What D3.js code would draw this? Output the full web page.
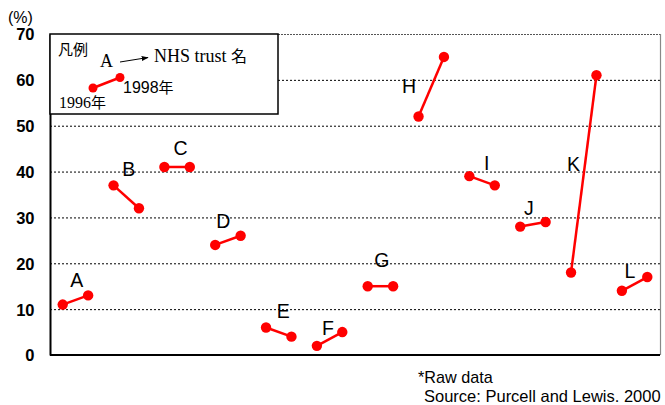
<!DOCTYPE html>
<html>
<head>
<meta charset="utf-8">
<script src="https://cdn.jsdelivr.net/npm/d3@7"></script>
<style>
  html, body { margin: 0; padding: 0; background: #fff; }
  svg { display: block; }
</style>
</head>
<body>
<svg id="chart" width="665" height="405"></svg>
<script>
// ---- data ----
const trusts = ["A","B","C","D","E","F","G","H","I","J","K","L"];
const years = ["1996年","1998年"];
const v1996 = [11, 37, 41, 24, 6, 2, 15, 52, 39, 28, 18, 14];
const v1998 = [13, 32, 41, 26, 4, 5, 15, 65, 37, 29, 61, 17];
const yTicks = [0, 10, 20, 30, 40, 50, 60, 70];
// label anchors (slot offset from the 1996 point, value units)
const labelDx = [0.55, 0.60, 0.64, 0.32, 0.68, 0.44, 0.56, -0.37, 0.68, 0.34, 0.10, 0.32];
const labelVal = [14.9, 39.1, 43.6, 27.6, 8.0, 4.4, 19.1, 57.1, 40.3, 30.5, 40.2, 16.7];

const svg = d3.select("#chart");
const pLeft = 50, pRight = 660, pTop = 34, pBottom = 355;

const x = d3.scaleLinear().domain([-0.5, trusts.length * 2 - 0.5]).range([pLeft, pRight]);
const y = d3.scaleLinear().domain([0, 70]).range([pBottom, pTop]);

// gridlines
svg.append("g").selectAll("line")
  .data(yTicks.filter(t => t > 0 && t < 70))
  .join("line")
  .attr("x1", pLeft).attr("x2", pRight)
  .attr("y1", d => y(d) + 0.5).attr("y2", d => y(d) + 0.5)
  .attr("stroke", "#000").attr("stroke-width", 1)
  .attr("stroke-dasharray", "2,2");

// plot area border
svg.append("line").attr("x1", pLeft).attr("x2", pRight).attr("y1", pTop + 0.5).attr("y2", pTop + 0.5)
  .attr("stroke", "#555").attr("stroke-width", 1.2).attr("stroke-dasharray", "2,1");
svg.append("line").attr("x1", pRight + 0.5).attr("x2", pRight + 0.5).attr("y1", pTop).attr("y2", pBottom)
  .attr("stroke", "#888").attr("stroke-width", 1.2);

// y axis
const yAxis = d3.axisLeft(y).tickValues(yTicks).tickSize(0).tickPadding(15.5);
const gy = svg.append("g").attr("transform", `translate(${pLeft},0)`).call(yAxis);
gy.select(".domain").attr("stroke", "#000").attr("stroke-width", 2);
gy.selectAll("text")
  .attr("font-family", "Liberation Sans, Arial, sans-serif")
  .attr("font-weight", "bold")
  .attr("font-size", 16.5)
  .attr("fill", "#000")
  .attr("dy", "0.36em");

// x axis baseline
svg.append("line").attr("x1", pLeft).attr("x2", pRight).attr("y1", pBottom).attr("y2", pBottom)
  .attr("stroke", "#000").attr("stroke-width", 2);

svg.append("text").attr("x", 8).attr("y", 23)
  .attr("font-family", "Liberation Sans, Arial, sans-serif").attr("font-size", 16)
  .text("(%)");

// series
const pairs = trusts.map((t, i) => ({ t, i, a: v1996[i], b: v1998[i] }));
const g = svg.append("g");
g.selectAll("line.pair").data(pairs).join("line")
  .attr("class", "pair")
  .attr("x1", d => x(d.i * 2)).attr("y1", d => y(d.a))
  .attr("x2", d => x(d.i * 2 + 1)).attr("y2", d => y(d.b))
  .attr("stroke", "#ff0000").attr("stroke-width", 2.5);
const pts = pairs.flatMap(d => [{ s: d.i * 2, v: d.a }, { s: d.i * 2 + 1, v: d.b }]);
g.selectAll("circle").data(pts).join("circle")
  .attr("cx", d => x(d.s)).attr("cy", d => y(d.v)).attr("r", 5.2)
  .attr("fill", "#ff0000");

// trust labels
g.selectAll("text.lab").data(pairs).join("text")
  .attr("class", "lab")
  .attr("x", d => x(d.i * 2 + labelDx[d.i]))
  .attr("y", d => y(labelVal[d.i]))
  .attr("text-anchor", "middle")
  .attr("font-family", "Liberation Sans, Arial, sans-serif")
  .attr("font-size", 19.5)
  .attr("fill", "#000")
  .text(d => d.t);

// legend
const lg = svg.append("g");
lg.append("rect").attr("x", pLeft).attr("y", pTop).attr("width", 228).attr("height", 80)
  .attr("fill", "#fff").attr("stroke", "#000").attr("stroke-width", 1.5);
const cjk = "'Noto Sans CJK JP', 'Noto Sans CJK SC', sans-serif";
const serif = "'Liberation Serif', 'Times New Roman', serif";
lg.append("text").attr("x", 58).attr("y", 55).attr("font-family", cjk).attr("font-size", 15).text("凡例");
lg.append("text").attr("x", 100).attr("y", 67).attr("font-family", serif).attr("font-size", 18).text("A");
svg.append("defs").append("marker").attr("id", "arr").attr("viewBox", "0 0 10 10")
  .attr("refX", 9).attr("refY", 5).attr("markerWidth", 7).attr("markerHeight", 7)
  .attr("orient", "auto").append("path").attr("d", "M0,1.5 L10,5 L0,8.5 Z").attr("fill", "#000");
lg.append("line").attr("x1", 120).attr("y1", 62).attr("x2", 148).attr("y2", 57.5)
  .attr("stroke", "#000").attr("stroke-width", 1).attr("marker-end", "url(#arr)");
const t1 = lg.append("text").attr("x", 154).attr("y", 62).attr("font-size", 18);
t1.append("tspan").attr("font-family", serif).text("NHS trust ");
t1.append("tspan").attr("font-family", cjk).attr("font-size", 16).text("名");
lg.append("line").attr("x1", 93).attr("y1", 88).attr("x2", 120).attr("y2", 77.5)
  .attr("stroke", "#ff0000").attr("stroke-width", 2.5);
lg.append("circle").attr("cx", 93).attr("cy", 88).attr("r", 4.5).attr("fill", "#ff0000");
lg.append("circle").attr("cx", 120).attr("cy", 77.5).attr("r", 4.5).attr("fill", "#ff0000");
const t2 = lg.append("text").attr("x", 123).attr("y", 93).attr("font-size", 16);
t2.append("tspan").attr("font-family", "Liberation Sans, Arial, sans-serif").text(years[1].slice(0, 4));
t2.append("tspan").attr("font-family", cjk).attr("font-size", 15).text(years[1].slice(4));
const t3 = lg.append("text").attr("x", 59).attr("y", 108).attr("font-size", 16);
t3.append("tspan").attr("font-family", serif).text(years[0].slice(0, 4));
t3.append("tspan").attr("font-family", cjk).attr("font-size", 15).text(years[0].slice(4));

// footer
svg.append("text").attr("x", 418).attr("y", 382.5)
  .attr("font-family", "Liberation Sans, Arial, sans-serif").attr("font-size", 16.2).text("*Raw data");
svg.append("text").attr("x", 424).attr("y", 402)
  .attr("font-family", "Liberation Sans, Arial, sans-serif").attr("font-size", 16.5).text("Source: Purcell and Lewis. 2000");
</script>
</body>
</html>
